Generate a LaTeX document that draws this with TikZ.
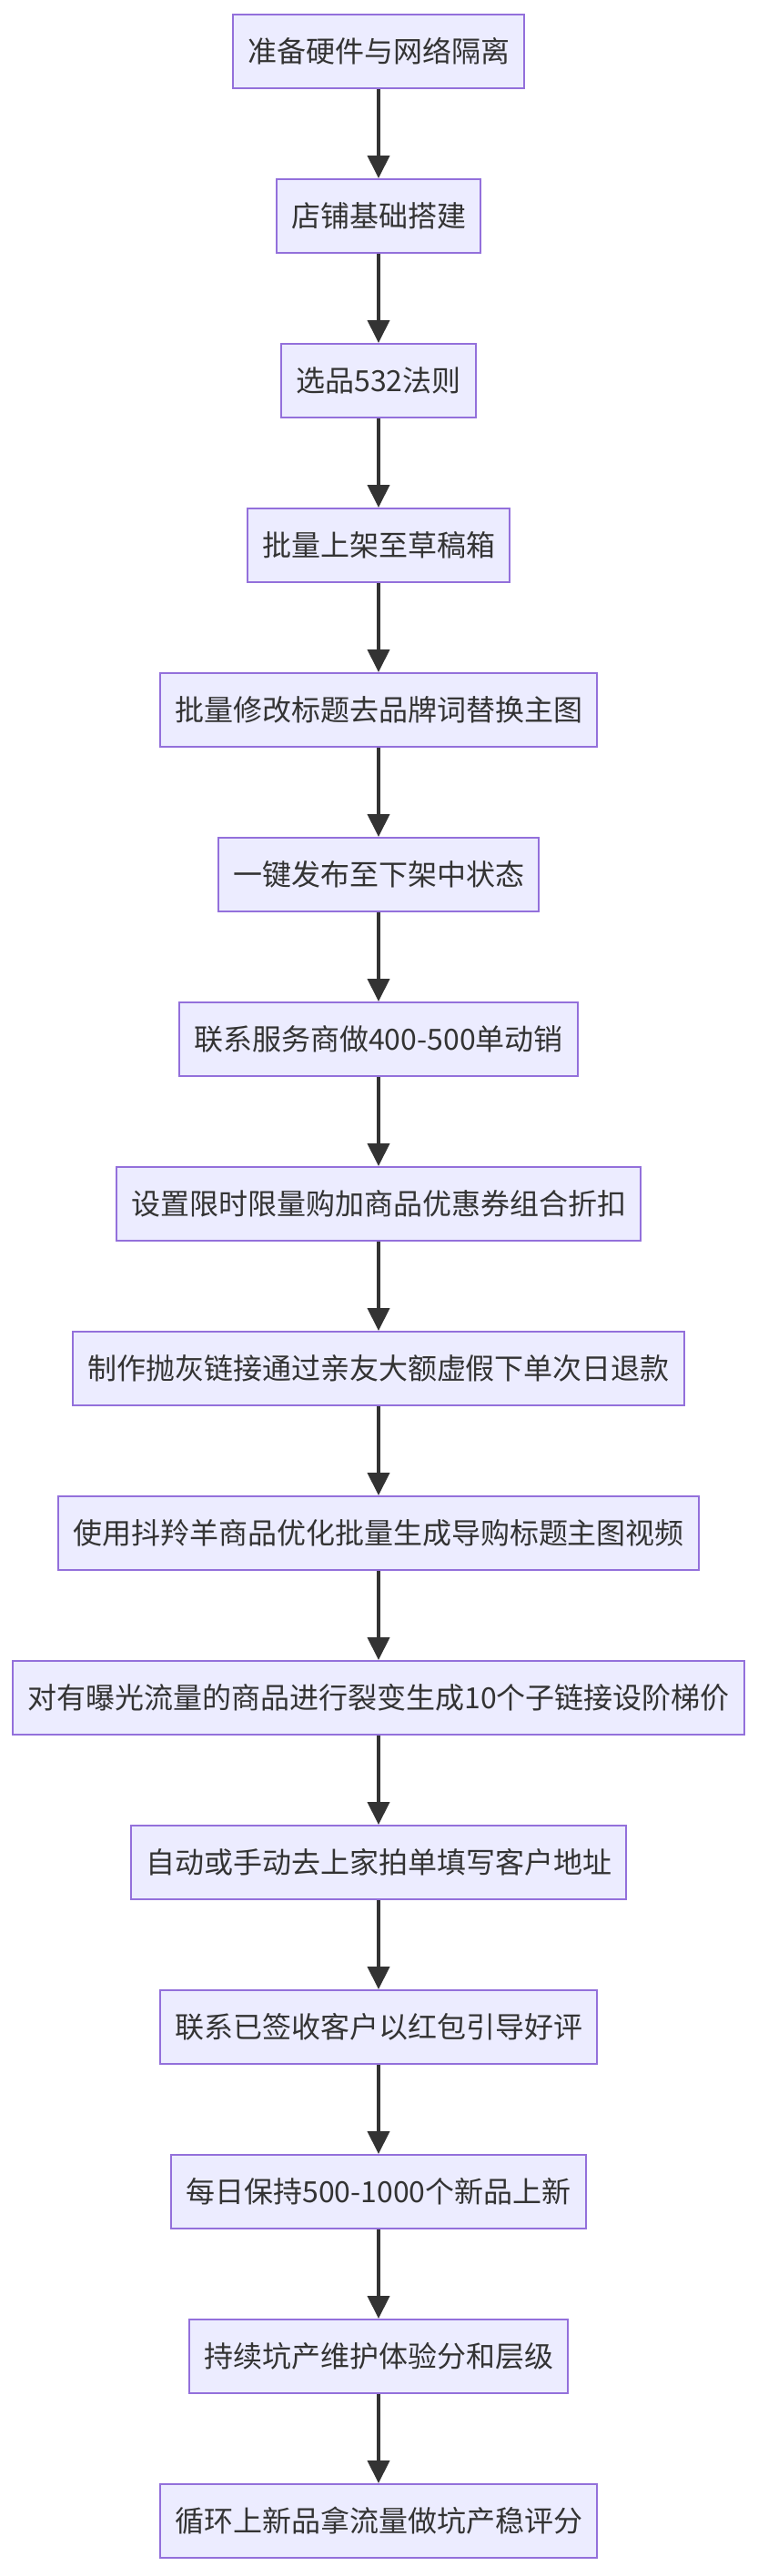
\documentclass[tikz,border=0pt]{standalone}
\usepackage{fontspec}
\setmainfont{Noto Sans CJK SC}
\usetikzlibrary{arrows.meta}
\definecolor{boxfill}{HTML}{ECECFF}
\definecolor{boxline}{HTML}{9370DB}
\definecolor{ink}{HTML}{333333}
\tikzset{
  stepbox/.style={draw=boxline, fill=boxfill, line width=1pt, text=ink,
    font=\fontsize{16pt}{19pt}\selectfont, inner xsep=8pt, inner ysep=0pt,
    minimum height=40.5pt, anchor=center},
  flow/.style={draw=ink, line width=2pt, -{Triangle[width=12pt,length=12.5pt]}}
}
\begin{document}
\begin{tikzpicture}[x=1pt,y=1pt]
\useasboundingbox (0,0) rectangle (416,-1416);
\def\cx{208}
\node[stepbox] (n1) at (\cx,-28.25) {准备硬件与网络隔离};
\node[stepbox] (n2) at (\cx,-118.75) {店铺基础搭建};
\node[stepbox] (n3) at (\cx,-209.25) {选品532法则};
\node[stepbox] (n4) at (\cx,-299.75) {批量上架至草稿箱};
\node[stepbox] (n5) at (\cx,-390.25) {批量修改标题去品牌词替换主图};
\node[stepbox] (n6) at (\cx,-480.75) {一键发布至下架中状态};
\node[stepbox] (n7) at (\cx,-571.25) {联系服务商做400-500单动销};
\node[stepbox] (n8) at (\cx,-661.75) {设置限时限量购加商品优惠券组合折扣};
\node[stepbox] (n9) at (\cx,-752.25) {制作抛灰链接通过亲友大额虚假下单次日退款};
\node[stepbox] (n10) at (\cx,-842.75) {使用抖羚羊商品优化批量生成导购标题主图视频};
\node[stepbox] (n11) at (\cx,-933.25) {对有曝光流量的商品进行裂变生成10个子链接设阶梯价};
\node[stepbox] (n12) at (\cx,-1023.75) {自动或手动去上家拍单填写客户地址};
\node[stepbox] (n13) at (\cx,-1114.25) {联系已签收客户以红包引导好评};
\node[stepbox] (n14) at (\cx,-1204.75) {每日保持500-1000个新品上新};
\node[stepbox] (n15) at (\cx,-1295.25) {持续坑产维护体验分和层级};
\node[stepbox] (n16) at (\cx,-1385.75) {循环上新品拿流量做坑产稳评分};
\foreach \a/\b in {n1/n2,n2/n3,n3/n4,n4/n5,n5/n6,n6/n7,n7/n8,n8/n9,n9/n10,n10/n11,n11/n12,n12/n13,n13/n14,n14/n15,n15/n16}
  \draw[flow] (\a.south) -- (\b.north);
\end{tikzpicture}
\end{document}
